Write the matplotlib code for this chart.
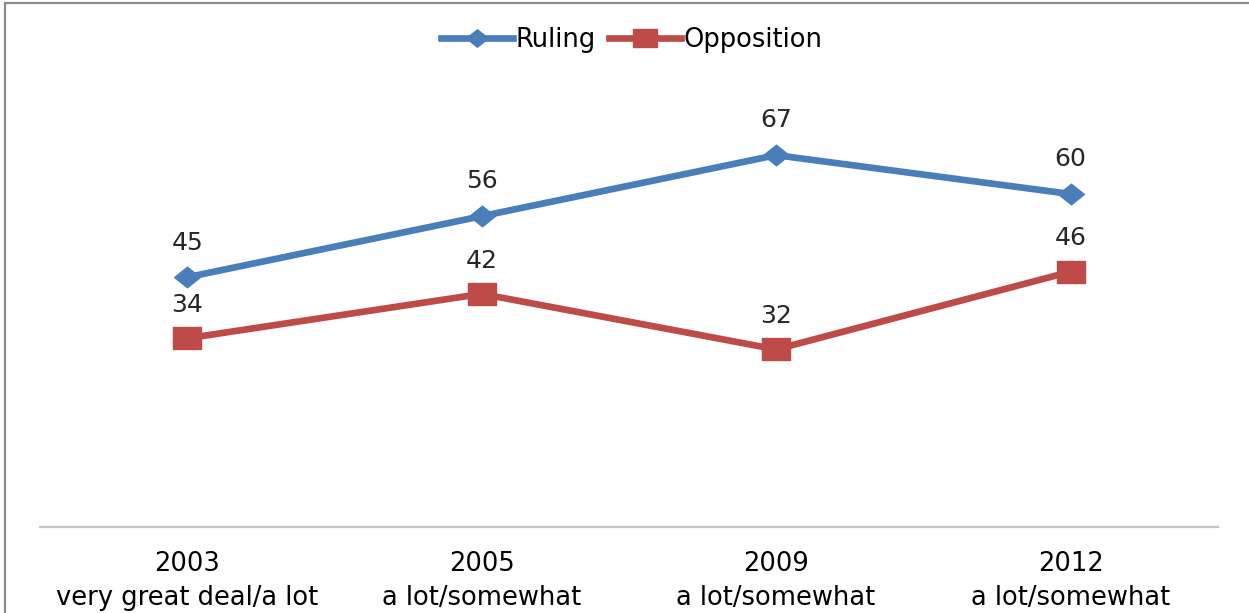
import matplotlib.pyplot as plt
from matplotlib.patches import Rectangle

years = ["2003", "2005", "2009", "2012"]
wording = ["very great deal/a lot", "a lot/somewhat", "a lot/somewhat", "a lot/somewhat"]
ruling = [45, 56, 67, 60]
opposition = [34, 42, 32, 46]

blue = "#4a7ebb"
red = "#be4b48"

# wide diamond and wide square markers
diamond = [(-1.25, 0), (0, 1), (1.25, 0), (0, -1), (-1.25, 0)]
square = [(-1.3, -1), (1.3, -1), (1.3, 1), (-1.3, 1), (-1.3, -1)]

plt.rcParams['font.family'] = 'DejaVu Sans'

fig = plt.figure(figsize=(12.49, 6.13), dpi=100)
ax = fig.add_axes([0.032, 0.1403, 0.943, 0.7243])

x = range(len(years))
ax.plot(x, ruling, color=blue, lw=4.8, marker=diamond, ms=18.5,
        mec=blue, mfc=blue, label="Ruling", solid_joinstyle='round')
ax.plot(x, opposition, color=red, lw=4.8, marker=square, ms=20.5,
        mec=red, mfc=red, label="Opposition", solid_joinstyle='round')

for i, v in enumerate(ruling):
    ax.annotate(str(v), (i, v), xytext=(0, 25), textcoords='offset points',
                ha='center', va='center', fontsize=18, color='#262626')
for i, v in enumerate(opposition):
    ax.annotate(str(v), (i, v), xytext=(0, 24), textcoords='offset points',
                ha='center', va='center', fontsize=18, color='#262626')

ax.set_xlim(-0.5, 3.5)
ax.set_ylim(0, 80)
ax.set_xticks(list(x))
ax.set_xticklabels([f"{y}\n{w}" for y, w in zip(years, wording)],
                   fontsize=18.5, linespacing=1.4)
ax.tick_params(axis='x', length=0, pad=17)
ax.set_yticks([])
for side in ['top', 'left', 'right']:
    ax.spines[side].set_visible(False)
ax.spines['bottom'].set_color('#c4c4c4')
ax.spines['bottom'].set_linewidth(1.6)

leg = ax.legend(loc='center', bbox_to_anchor=(0.506, 0.935), bbox_transform=fig.transFigure,
                ncol=2, frameon=False, fontsize=18.5, handlelength=2.8,
                handletextpad=0.1, columnspacing=0.5, markerscale=0.85)

# outer chart frame
fig.patches.append(Rectangle((0.004, -0.5), 2, 1.495, transform=fig.transFigure,
                             fill=False, edgecolor='#8c8c8c', lw=1.6))

fig.savefig("out.png", dpi=100)
